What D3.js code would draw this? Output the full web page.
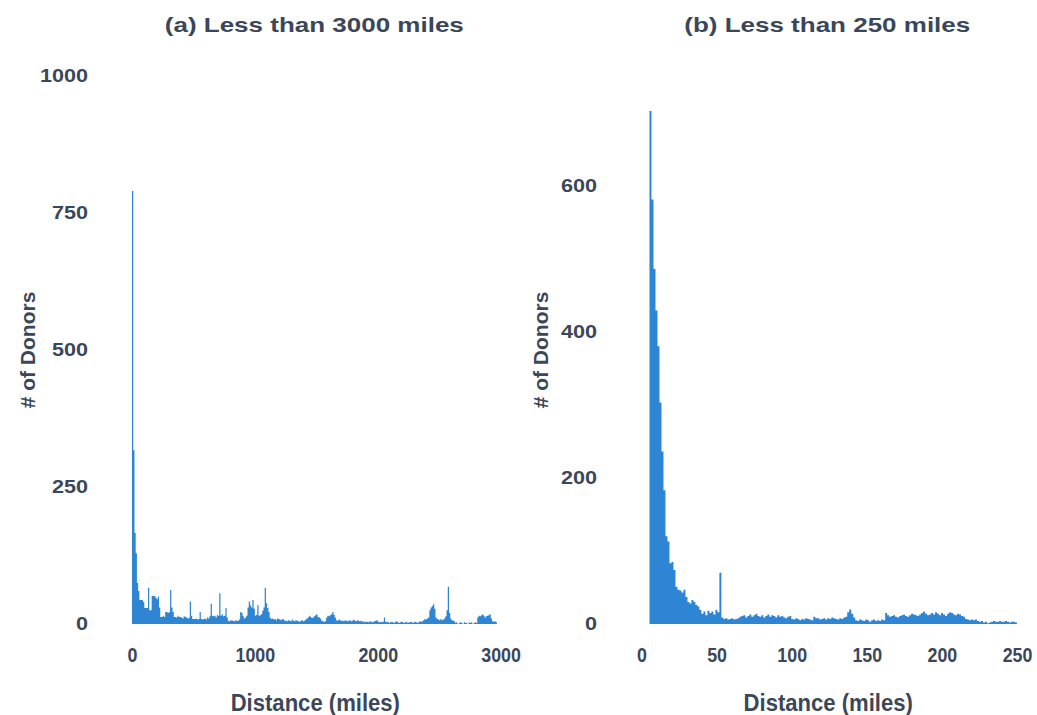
<!DOCTYPE html>
<html>
  <head>
    <meta charset="utf-8">
    <script src="https://d3js.org/d3.v7.min.js"></script>
    <title>Donor distance histograms</title>
    <style>
      body { margin: 0px; background: #fff; }
      text { font-family: "Liberation Sans", Arial, sans-serif; font-weight: bold; fill: #3b4758; }
    </style>
  </head>
  <body>
    <svg width="1037" height="715"></svg>
    <script>
      // (a) counts per 10-mile bin, 0 - 3000 miles
      const farCounts = [
        790,317,166,129,75,60,44,44,44,40,
        29,29,29,66,25,25,51,51,51,48,
        45,50,30,13,13,15,13,22,22,20,
        22,62,30,22,13,13,12,15,13,13,
        12,10,14,13,12,10,11,41,15,9,
        9,9,10,8,9,22,9,8,9,10,
        8,12,10,14,37,15,14,15,12,16,
        15,56,15,18,14,15,29,12,6,5,
        7,6,6,5,7,6,6,8,22,20,
        14,10,12,15,30,41,34,30,44,28,
        15,17,34,15,16,18,24,30,66,38,
        29,22,12,9,10,8,9,7,10,9,
        8,7,9,8,6,6,5,7,6,5,
        8,6,5,7,6,5,4,6,7,5,
        6,8,10,12,15,13,11,12,14,16,
        18,13,12,10,6,5,4,5,12,15,
        14,16,18,22,17,12,7,6,8,7,
        6,6,5,7,6,5,6,7,5,6,
        8,6,5,7,6,5,6,4,5,3,
        4,4,3,5,4,3,4,5,6,7,
        4,3,4,3,4,12,4,3,4,2,
        3,4,3,2,4,5,3,2,3,4,
        3,2,3,4,2,3,3,4,2,3,
        4,3,2,3,5,4,5,7,9,8,
        10,12,25,30,33,36,28,12,9,8,
        7,9,7,8,10,14,25,68,20,10,
        7,6,5,2,3,0,2,3,2,0,
        3,2,2,0,3,2,3,0,2,3,
        2,12,15,14,16,18,15,12,14,15,
        16,18,10,5,4,5,3,0,0,0
      ];
      const farMax = 3000;

      // (b) counts per bin, 0 - 250 miles (188 bins)
      const nearCounts = [
        0,0,0,0,702,581,486,429,380,303,
        236,183,120,113,83,85,74,51,47,46,
        43,47,37,30,28,33,30,26,24,
        19,14,17,12,18,15,17,13,19,16,
        70,
        9,7,8,6,7,8,6,7,8,
        10,11,12,9,11,13,10,12,14,11,10,12,9,11,13,10,12,11,9,12,10,11,9,8,10,11,
        7,6,8,7,5,7,6,8,7,6,5,10,8,8,6,7,8,6,
        8,7,9,8,7,6,8,7,9,10,
        16,20,14,9,
        5,4,6,5,4,6,5,3,5,6,4,5,4,6,5,
        15,12,10,11,12,10,9,11,12,13,11,10,12,14,13,12,11,
        13,15,17,14,12,13,15,13,16,14,12,15,13,11,14,16,15,13,12,14,13,11,10,
        7,6,5,6,5,6,4,
        3,4,2,3,1,2,3,4,3,3,4,3,3,4,3,2,3,3,2
      ];
      const nearMax = 250;

      const farTicksX = [0, 1000, 2000, 3000];
      const farTicksY = [0, 250, 500, 750, 1000];
      const nearTicksX = [0, 50, 100, 150, 200, 250];
      const nearTicksY = [0, 200, 400, 600];

      const barColor = '#2d85d3';
      const svg = d3.select('svg');

      const panels = [
        { title: '(a) Less than 3000 miles', counts: farCounts, maxX: farMax, maxY: 1000,
          xRange: [132, 500.6], xTicks: farTicksX, yTicks: farTicksY, tickRight: 88, yTitleX: 28 },
        { title: '(b) Less than 250 miles', counts: nearCounts, maxX: nearMax, maxY: 750,
          xRange: [641.5, 1017], xTicks: nearTicksX, yTicks: nearTicksY, tickRight: 597, yTitleX: 541 }
      ];

      panels.forEach(p => {
        const xScale = d3.scaleLinear().domain([0, p.maxX]).range(p.xRange);
        const yScale = d3.scaleLinear().domain([0, p.maxY]).range([624, 76]);
        const binW = p.maxX / p.counts.length;
        const g = svg.append('g');

        // histogram as a stepped area so neighbouring bins don't leave seams
        const steps = p.counts.map((c, i) => ({ x: i * binW, c: c }));
        steps.push({ x: p.maxX, c: 0 });
        const area = d3.area()
            .curve(d3.curveStepAfter)
            .x(d => xScale(d.x))
            .y0(yScale(0))
            .y1(d => yScale(d.c));
        g.append('path')
          .datum(steps)
          .attr('d', area)
          .style('fill', barColor);

        const yAxis = d3.axisLeft(yScale).tickValues(p.yTicks).tickSize(0).tickPadding(0)
            .tickFormat(d3.format('d'));
        const yAxisG = g.append('g')
            .attr('transform', `translate(${p.tickRight}, 0)`)
            .call(yAxis);
        yAxisG.select('.domain').remove();
        yAxisG.selectAll('text')
            .attr('fill', null)
            .style('font-size', '18px')
            .attr('transform', 'scale(1.2,1)');

        const xAxis = d3.axisBottom(xScale).tickValues(p.xTicks).tickSize(0).tickPadding(0)
            .tickFormat(d3.format('d'));
        const xAxisG = g.append('g')
            .attr('transform', 'translate(0, 647)')
            .call(xAxis);
        xAxisG.select('.domain').remove();
        xAxisG.selectAll('text')
            .attr('fill', null)
            .style('font-size', '21px')
            .attr('transform', 'scale(0.85,1)');

        const midX = (p.xRange[0] + p.xRange[1]) / 2;
        g.append('text')
          .attr('transform', `translate(${midX - 2}, 32) scale(1.3,1)`)
          .style('text-anchor', 'middle')
          .style('font-size', '20px')
          .text(p.title);

        g.append('text')
          .attr('transform', `translate(${midX - 1}, 711) scale(0.96,1)`)
          .style('text-anchor', 'middle')
          .style('font-size', '23px')
          .text('Distance (miles)');

        g.append('text')
          .attr('transform', `translate(${p.yTitleX}, 350) rotate(-90)`)
          .attr('dy', '0.35em')
          .style('text-anchor', 'middle')
          .style('font-size', '21px')
          .text('# of Donors');
      });
    </script>
  </body>
</html>
